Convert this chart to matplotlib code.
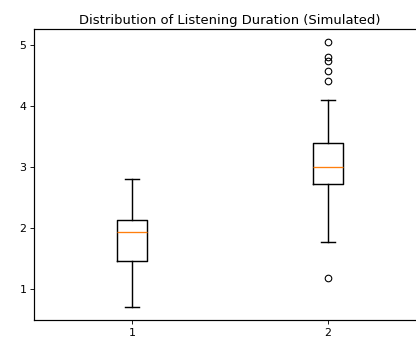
import matplotlib
matplotlib.use("Agg")
import matplotlib.pyplot as plt

# ---- Box statistics ----
labels = ["1", "2"]
whislo = [0.71, 1.77]
q1 = [1.46, 2.73]
med = [1.94, 3.01]
q3 = [2.14, 3.40]
whishi = [2.81, 4.10]
fliers = [[], [5.05, 4.81, 4.74, 4.58, 4.42, 1.18]]

stats = []
for i in range(len(labels)):
    stats.append({
        "label": labels[i],
        "whislo": whislo[i],
        "q1": q1[i],
        "med": med[i],
        "q3": q3[i],
        "whishi": whishi[i],
        "fliers": fliers[i],
    })

plt.rcParams["boxplot.boxprops.linewidth"] = 1.3
plt.rcParams["boxplot.whiskerprops.linewidth"] = 1.3
plt.rcParams["boxplot.capprops.linewidth"] = 1.3
plt.rcParams["boxplot.medianprops.linewidth"] = 1.2
plt.rcParams["axes.linewidth"] = 1.1

dpi = 79
fig = plt.figure(figsize=(416 / dpi, 338 / dpi), dpi=dpi)
ax = fig.add_axes([34 / 416, 18 / 338, 392 / 416, 291 / 338])
ax.bxp(stats, positions=[1, 2])
ax.set_title("Distribution of Listening Duration (Simulated)", pad=4.5)

plt.savefig("out.png", dpi=dpi)
